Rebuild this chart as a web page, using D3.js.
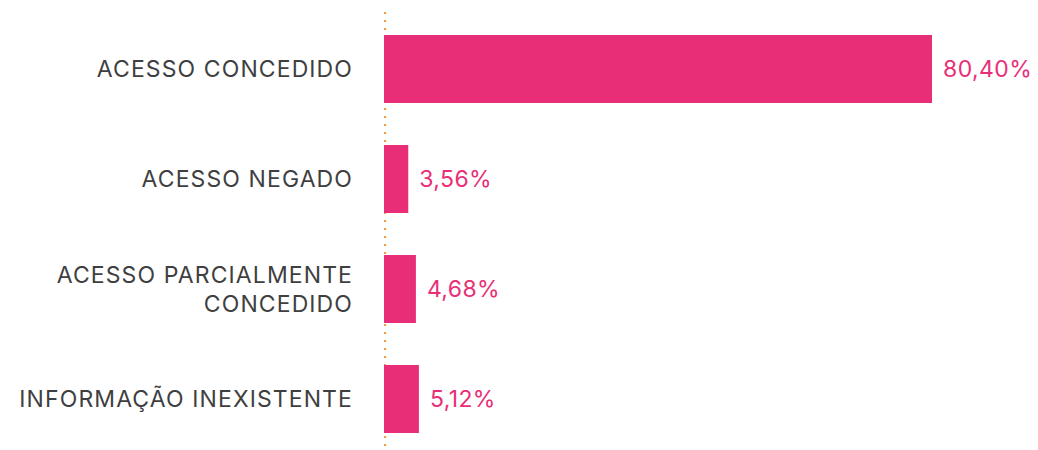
<!DOCTYPE html>
<html>
<head>
<meta charset="utf-8">
<script src="https://cdn.jsdelivr.net/npm/d3@7"></script>
<style>
  body { margin: 0; background: #fff; }
  text { font-family: Inter, "Open Sans", sans-serif; }
</style>
</head>
<body>
<svg id="chart" width="1038" height="450"></svg>
<script>
// categories and values (percent)
var categories = [
  ["ACESSO CONCEDIDO"],
  ["ACESSO NEGADO"],
  ["ACESSO PARCIALMENTE", "CONCEDIDO"],
  ["INFORMAÇÃO INEXISTENTE"]
];
var values = [80.40, 3.56, 4.68, 5.12];
var valueLabels = ["80,40%", "3,56%", "4,68%", "5,12%"];

var svg = d3.select("#chart");
var left = 384;

var x = d3.scaleLinear()
  .domain([0, d3.max(values)])
  .range([left, 932]);

var y = d3.scaleBand()
  .domain(d3.range(values.length))
  .range([35, 433])
  .paddingInner(0.382)
  .paddingOuter(0);

// dotted baseline
svg.append("line")
  .attr("x1", left + 1).attr("x2", left + 1)
  .attr("y1", 12).attr("y2", 446)
  .style("stroke", "#f39a3a")
  .style("stroke-width", 2)
  .style("stroke-dasharray", "2,6");

var bar = svg.selectAll("g.bar").data(values).enter().append("g")
  .attr("class", "bar");

bar.append("rect")
  .attr("x", x(0))
  .attr("y", function(d, i) { return y(i); })
  .attr("width", function(d) { return x(d) - x(0); })
  .attr("height", y.bandwidth())
  .style("fill", "#e82e76");

bar.append("text")
  .attr("x", function(d) { return x(d) + 11; })
  .attr("y", function(d, i) { return y(i) + y.bandwidth() / 2; })
  .attr("dy", "0.36em")
  .style("font-size", "23px")
  .style("letter-spacing", "0.4px")
  .style("fill", "#e82e76")
  .text(function(d, i) { return valueLabels[i]; });

var lab = bar.append("text")
  .attr("text-anchor", "end")
  .style("font-size", "23px")
  .style("letter-spacing", "1.1px")
  .style("fill", "#3f3f3f");

lab.each(function(d, i) {
  var lines = categories[i];
  var cy = y(i) + y.bandwidth() / 2;
  var lh = 29;
  var t = d3.select(this);
  lines.forEach(function(line, j) {
    t.append("tspan")
      .attr("x", 353)
      .attr("y", cy + (j - (lines.length - 1) / 2) * lh)
      .attr("dy", "0.36em")
      .text(line);
  });
});
</script>
</body>
</html>
